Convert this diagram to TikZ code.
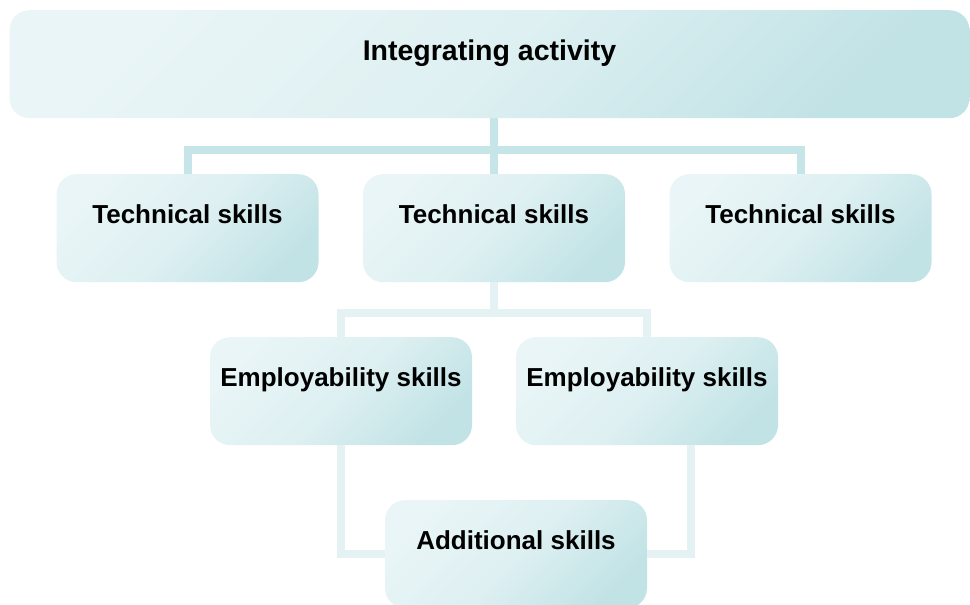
\documentclass[tikz,border=0pt]{standalone}
\usepackage{fontspec}
\setmainfont{Liberation Sans}
\usepackage{tikz}
\definecolor{boxlight}{RGB}{233,245,246}
\definecolor{boxmid}{RGB}{222,240,242}
\definecolor{boxdark}{RGB}{194,227,230}
\definecolor{toplinkcol}{RGB}{197,229,232}
\definecolor{sublinkcol}{RGB}{228,242,243}

\begin{document}
\begin{tikzpicture}[x=1pt,y=1pt,yscale=-1,xscale=1,
  skillbox/.style={rectangle,rounded corners=20pt,inner xsep=0pt,inner ysep=0pt,
    minimum width=262pt,text height=49pt,text depth=59pt,
    top color=boxlight,bottom color=boxdark,middle color=boxmid,shading angle=45,
    font=\bfseries\fontsize{26}{30}\selectfont},
  toplink/.style={draw=toplinkcol,line width=8pt},
  sublink/.style={draw=sublinkcol,line width=8pt}]
\useasboundingbox (0,0) rectangle (970,605);

% Text Node
\node [skillbox,anchor=north,minimum width=960pt,text height=50pt,text depth=58pt,
  font=\bfseries\fontsize{28.5}{32}\selectfont] (integ) at (489.5,10) {Integrating activity};
% Text Node
\node [skillbox,anchor=north] (tech1) at (187.5,174) {Technical skills};
% Text Node
\node [skillbox,anchor=north] (tech2) at (494,174) {Technical skills};
% Text Node
\node [skillbox,anchor=north] (tech3) at (800.5,174) {Technical skills};
% Text Node
\node [skillbox,anchor=north] (emp1) at (341,337) {Employability skills};
% Text Node
\node [skillbox,anchor=north] (emp2) at (647,337) {Employability skills};
% Text Node
\node [skillbox,anchor=north] (add) at (516,500) {Additional skills};

\coordinate (bar1) at (494,150);
\coordinate (bar2) at (494,313);

% Connection
\draw [toplink] (tech2.north |- integ.south) -- (bar1) ;
% Connection
\draw [toplink] (tech1.north) |- (bar1) -| (tech3.north) ;
% Connection
\draw [toplink] (bar1) -- (tech2.north) ;
% Connection
\draw [sublink] (tech2.south) -- (bar2) ;
% Connection
\draw [sublink] (emp1.north) |- (bar2) -| (emp2.north) ;
% Connection
\draw [sublink] (emp1.south) |- (add.west) ;
% Connection
\draw [sublink] ([xshift=44pt]emp2.south) |- (add.east) ;

\end{tikzpicture}
\end{document}
